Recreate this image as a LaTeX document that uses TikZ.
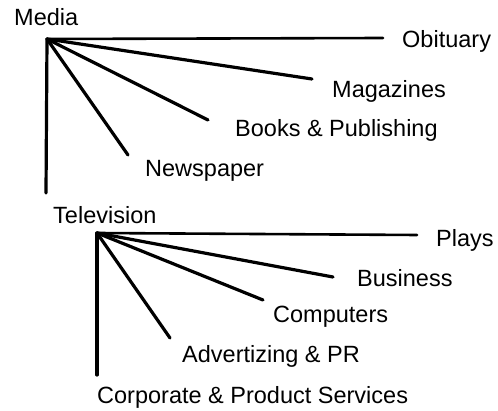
\documentclass[tikz,border=0pt]{standalone}
\usepackage{fontspec}
\setmainfont{Liberation Sans}
\begin{document}
\begin{tikzpicture}[x=1pt,y=-1pt,
  lbl/.style={anchor=base west,inner sep=0pt,font=\fontsize{23.5}{26}\selectfont},
  branch/.style={line width=3.2pt,line cap=round},
  flat/.style={line width=2.6pt,line cap=round}]
\useasboundingbox (0,0) rectangle (498,411);

% --- Media tree ---
\coordinate (m) at (47,39);
\coordinate (mObit) at (383,38);
\coordinate (mMag) at (312,79);
\coordinate (mBook) at (208,120);
\coordinate (mNews) at (128,155);
\coordinate (mDown) at (46,193);
\node[lbl] (media) at (14,26) {Media};
\node[lbl] (obit) at (402,48) {Obituary};
\node[lbl] (mag) at (332,98) {Magazines};
\node[lbl] (book) at (235,137) {Books \& Publishing};
\node[lbl] (news) at (145,177) {Newspaper};
\draw[flat] (m) -- (mObit);
\draw[branch] (m) -- (mMag);
\draw[branch] (m) -- (mBook);
\draw[branch] (m) -- (mNews);
\draw[branch] (m) -- (mDown);

% --- Television tree ---
\coordinate (t) at (97,233);
\coordinate (tPlay) at (417,235);
\coordinate (tBus) at (333,277);
\coordinate (tComp) at (263,300);
\coordinate (tAdv) at (170,338);
\coordinate (tDown) at (97,375);
\node[lbl] (tv) at (53,224) {Television};
\node[lbl] (plays) at (436,247) {Plays};
\node[lbl] (bus) at (357,287) {Business};
\node[lbl] (comp) at (273,323) {Computers};
\node[lbl] (adv) at (182,363) {Advertizing \& PR};
\node[lbl] (corp) at (97,403) {Corporate \& Product Services};
\draw[flat] (t) -- (tPlay);
\draw[branch] (t) -- (tBus);
\draw[branch] (t) -- (tComp);
\draw[branch] (t) -- (tAdv);
\draw[branch] (t) -- (tDown);
\end{tikzpicture}
\end{document}
